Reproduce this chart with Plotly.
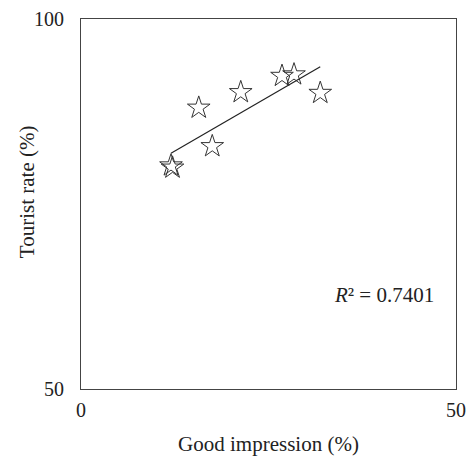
import numpy as np
import plotly.graph_objects as go

# Survey results: share with a good impression vs. tourist rate
good_impression = [12.0, 12.2, 15.7, 17.5, 21.3, 26.8, 28.4, 31.9]
tourist_rate = [80.2, 79.9, 88.0, 82.8, 90.1, 92.3, 92.5, 90.0]
r2_label = "0.7401"

x_ticks = [0, 50]
y_ticks = [50, 100]

# Least-squares trend line over the observed range
slope, intercept = np.polyfit(good_impression, tourist_rate, 1)
x_fit = [min(good_impression), max(good_impression)]
y_fit = [slope * v + intercept for v in x_fit]

font_family = "Liberation Serif, Times New Roman, serif"
ink = "#222222"

fig = go.Figure()
fig.add_trace(go.Scatter(
    x=x_fit, y=y_fit, mode="lines",
    line=dict(color=ink, width=1.2),
    showlegend=False, hoverinfo="skip",
))
fig.add_trace(go.Scatter(
    x=good_impression, y=tourist_rate, mode="markers",
    marker=dict(symbol="star-open", size=17, color="#333333",
                line=dict(color="#333333", width=1)),
    showlegend=False,
))

fig.add_annotation(
    x=40.4, y=62.7, xref="x", yref="y",
    text="<i>R</i>² = " + r2_label, showarrow=False,
    font=dict(family=font_family, size=21, color=ink),
)

# Vertical axis title, placed by hand so it sits slightly above centre
fig.add_annotation(
    x=-0.144, y=0.532, xref="paper", yref="paper",
    xanchor="center", yanchor="middle",
    text="Tourist rate (%)", textangle=-90, showarrow=False,
    font=dict(family=font_family, size=21, color=ink),
)

axis_common = dict(
    showgrid=False, zeroline=False, showline=True, mirror=True,
    linecolor="#444444", linewidth=1, ticks="", automargin=False,
    tickfont=dict(family=font_family, size=20, color=ink),
)

fig.update_layout(
    width=468, height=457,
    margin=dict(l=81, r=12, t=19, b=68),
    paper_bgcolor="white", plot_bgcolor="white",
    xaxis=dict(range=[0, 50], tickvals=x_ticks, ticklabelstandoff=3,
               title=dict(text="Good impression (%)", standoff=16,
                          font=dict(family=font_family, size=21, color=ink)),
               **axis_common),
    yaxis=dict(range=[50, 100], tickvals=y_ticks, ticklabelstandoff=12,
               **axis_common),
)

fig.write_html("out.html")
